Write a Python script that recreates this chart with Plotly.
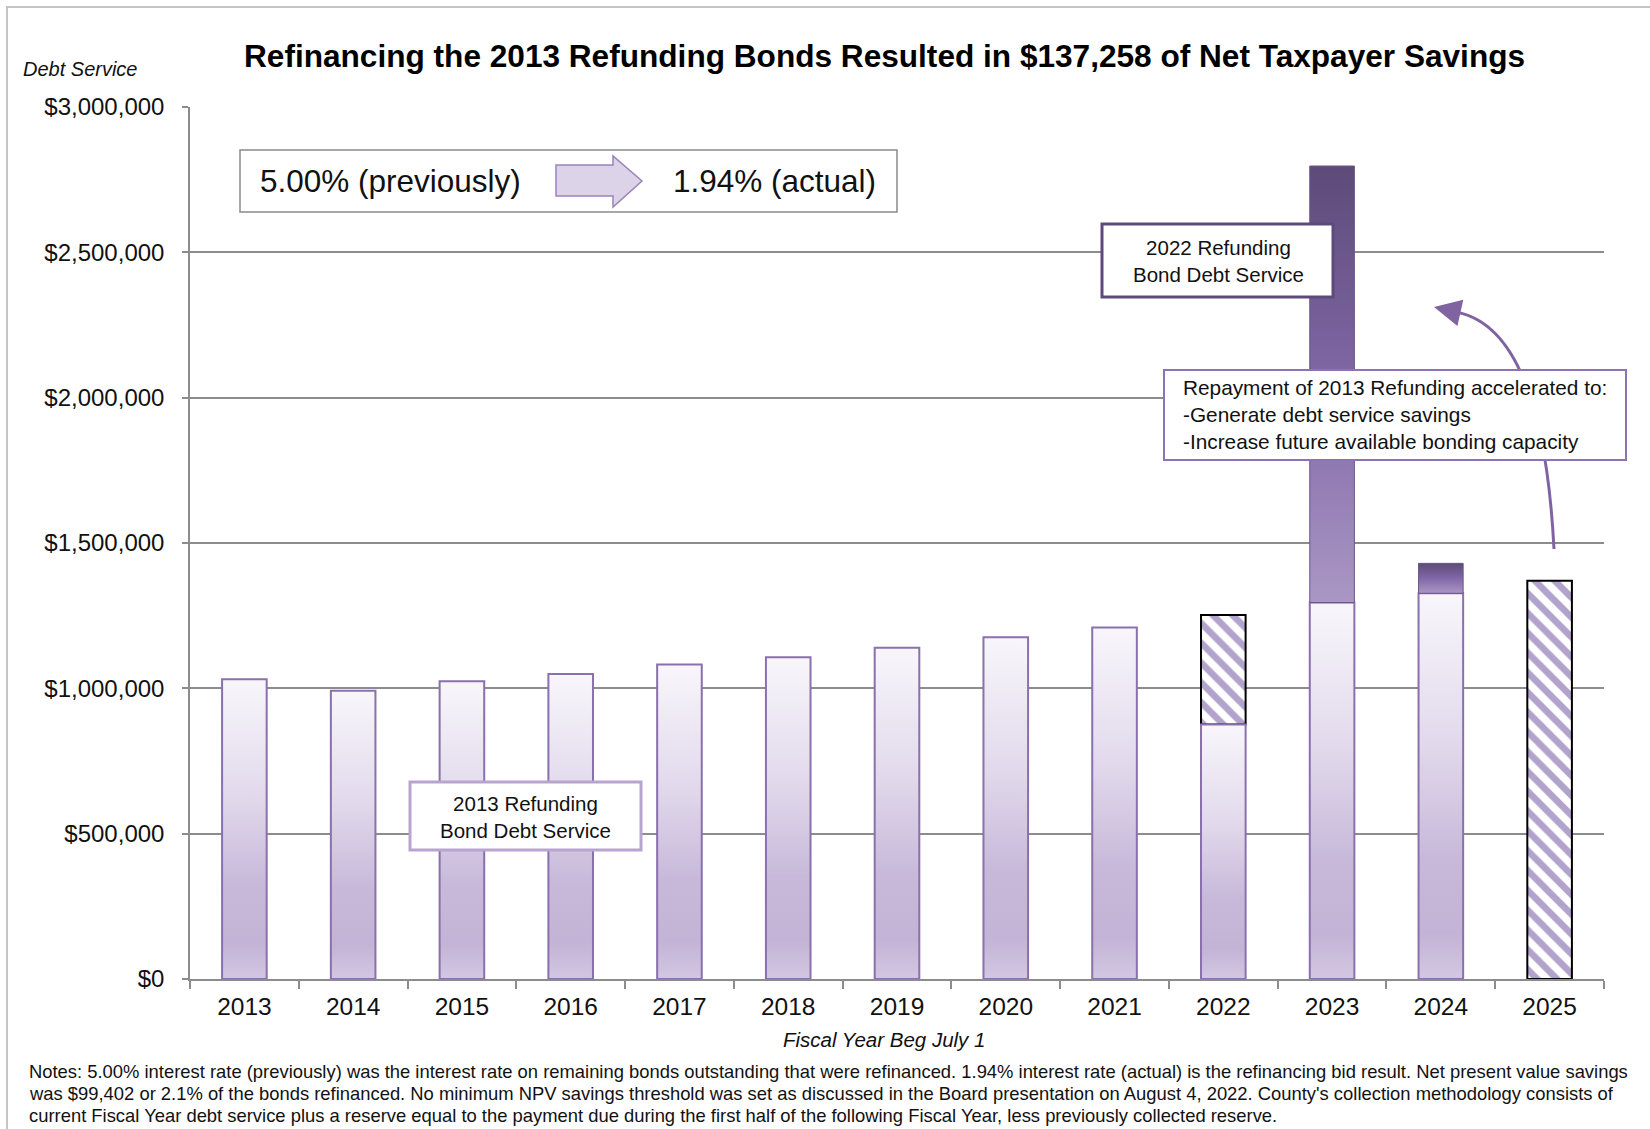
import plotly.graph_objects as go

# ---- data -------------------------------------------------------------
years = [2013, 2014, 2015, 2016, 2017, 2018, 2019, 2020, 2021, 2022, 2023, 2024, 2025]
year_labels = [str(y) for y in years]

# 2013 Refunding Bond debt service actually paid
bond_2013_ds = [1031000, 992000, 1024000, 1049000, 1082000, 1107000, 1140000,
                1176000, 1209000, 876000, 1295000, 1327000, 0]
# 2013 Refunding debt service that was refinanced (previously scheduled)
refinanced_2013_ds = [0, 0, 0, 0, 0, 0, 0, 0, 0, 376000, 0, 0, 1370000]
# 2022 Refunding Bond debt service
bond_2022_ds = [0, 0, 0, 0, 0, 0, 0, 0, 0, 0, 1502000, 103000, 0]

y_ticks = [0, 500000, 1000000, 1500000, 2000000, 2500000, 3000000]
y_tick_labels = ["$0", "$500,000", "$1,000,000", "$1,500,000",
                 "$2,000,000", "$2,500,000", "$3,000,000"]

note_lines = [
    "Notes: 5.00% interest rate (previously) was the interest rate on remaining bonds outstanding that were refinanced. "
    "1.94% interest rate (actual) is the refinancing bid result. Net present value savings",
    "was $99,402 or 2.1% of the bonds refinanced. No minimum NPV savings threshold was set as discussed in the Board "
    "presentation on August 4, 2022. County's collection methodology consists of",
    "current Fiscal Year debt service plus a reserve equal to the payment due during the first half of the following "
    "Fiscal Year, less previously collected reserve.",
]

# ---- page geometry ----------------------------------------------------
W, H = 1650, 1129
L, R, T, B = 190, 46, 107, 150
PW, PH = W - L - R, H - T - B
BAR_W = 0.41

FONT = "Liberation Sans, Arial, sans-serif"
NARROW = "Liberation Sans Narrow, Arial Narrow, Liberation Sans, sans-serif"
GRID = "#8c8c8c"
PURPLE = "#8064a2"


def px(x):
    """page pixel column -> paper x"""
    return (x - L) / PW


def py(y):
    """page pixel row -> paper y"""
    return (H - B - y) / PH


fig = go.Figure()

# 2013 Refunding bars (white-to-lilac vertical gradient)
light_scale = [[0.0, "#d3c7e2"], [0.12, "#c3b3d6"], [0.32, "#c8b9da"],
               [0.62, "#e2daec"], [1.0, "#f8f6fb"]]
for yr, v in zip(years, bond_2013_ds):
    if v <= 0:
        continue
    x0, x1 = yr - BAR_W / 2, yr + BAR_W / 2
    fig.add_trace(go.Scatter(
        x=[x0, x0, x1, x1, x0], y=[0, v, v, 0, 0],
        mode="lines", fill="toself",
        fillgradient=dict(type="vertical", colorscale=light_scale),
        line=dict(color="#8a70ac", width=2),
        name="2013 Refunding Bond Debt Service", hoverinfo="skip"))

# 2022 Refunding bars stacked on top (dark purple gradient)
dark_scale = [[0.0, "#ab97c5"], [0.5, "#8068a6"], [1.0, "#5e4a79"]]
for yr, base, v in zip(years, bond_2013_ds, bond_2022_ds):
    if v <= 0:
        continue
    x0, x1 = yr - BAR_W / 2, yr + BAR_W / 2
    fig.add_trace(go.Scatter(
        x=[x0, x0, x1, x1, x0], y=[base, base + v, base + v, base, base],
        mode="lines", fill="toself",
        fillgradient=dict(type="vertical", colorscale=dark_scale),
        line=dict(color="#6a5488", width=1),
        name="2022 Refunding Bond Debt Service", hoverinfo="skip"))

# refinanced 2013 Refunding debt service (hatched)
hx = [yr for yr, v in zip(years, refinanced_2013_ds) if v > 0]
hy = [v for v in refinanced_2013_ds if v > 0]
hb = [b for b, v in zip(bond_2013_ds, refinanced_2013_ds) if v > 0]
fig.add_trace(go.Bar(
    x=hx, y=hy, base=hb, width=BAR_W,
    marker=dict(color="white", line=dict(color="black", width=2),
                pattern=dict(shape="\\", fgcolor="#66479a", bgcolor="white",
                             size=14, solidity=0.48)),
    name="Refinanced 2013 Refunding Debt Service", hoverinfo="skip"))

shapes = []
annotations = []

# outer frame (top and left edges visible)
shapes.append(dict(type="rect", xref="paper", yref="paper",
                   x0=px(7), x1=px(1700), y0=py(1200), y1=py(7),
                   line=dict(color="#c4c4c4", width=2), layer="below"))

# rate comparison box with block arrow
shapes.append(dict(type="rect", xref="paper", yref="paper",
                   x0=px(240), x1=px(897), y0=py(212), y1=py(150),
                   fillcolor="white", line=dict(color="#8a8a8a", width=1.5)))
arrow_pts = [(556, 165), (613, 165), (613, 156), (642, 181), (613, 207),
             (613, 196), (556, 196)]
path = "M " + " L ".join(f"{px(a):.5f},{py(b):.5f}" for a, b in arrow_pts) + " Z"
shapes.append(dict(type="path", xref="paper", yref="paper", path=path,
                   fillcolor="#ddd3e9", line=dict(color="#9a84ba", width=1.5)))
annotations.append(dict(text="5.00% (previously)", xref="paper", yref="paper",
                        x=px(258), y=py(181), xanchor="left", yanchor="middle",
                        showarrow=False, font=dict(size=31.5, family=FONT, color="#111")))
annotations.append(dict(text="1.94% (actual)", xref="paper", yref="paper",
                        x=px(878), y=py(181), xanchor="right", yanchor="middle",
                        showarrow=False, font=dict(size=31.5, family=FONT, color="#111")))

# curved callout arrow
shapes.append(dict(type="path", xref="paper", yref="paper",
                   path=(f"M {px(1554):.5f},{py(549):.5f} "
                         f"Q {px(1542):.5f},{py(318):.5f} {px(1448):.5f},{py(311):.5f}"),
                   line=dict(color=PURPLE, width=3)))
annotations.append(dict(text="", xref="paper", yref="paper",
                        x=px(1434), y=py(307), ax=18, ay=4,
                        showarrow=True, arrowhead=2, arrowsize=1.8,
                        arrowwidth=3, arrowcolor=PURPLE))

# 2022 Refunding label
shapes.append(dict(type="rect", xref="paper", yref="paper",
                   x0=px(1102), x1=px(1333), y0=py(297), y1=py(224),
                   fillcolor="white", line=dict(color="#5e4a7a", width=3)))
annotations.append(dict(text="2022 Refunding<br>Bond Debt Service", xref="paper", yref="paper",
                        x=px(1218), y=py(261), xanchor="center", yanchor="middle",
                        showarrow=False, align="center",
                        font=dict(size=20.5, family=FONT, color="#111")))

# repayment note box
shapes.append(dict(type="rect", xref="paper", yref="paper",
                   x0=px(1164), x1=px(1626), y0=py(460), y1=py(370),
                   fillcolor="white", line=dict(color="#8d73b3", width=2)))
annotations.append(dict(text=("Repayment of 2013 Refunding accelerated to:<br>"
                              "-Generate debt service savings<br>"
                              "-Increase future available bonding capacity"),
                        xref="paper", yref="paper",
                        x=px(1181), y=py(414), xanchor="left", yanchor="middle",
                        showarrow=False, align="left",
                        font=dict(size=20.8, family=FONT, color="#111")))

# 2013 Refunding label
shapes.append(dict(type="rect", xref="paper", yref="paper",
                   x0=px(410), x1=px(641), y0=py(850), y1=py(782),
                   fillcolor="white", line=dict(color="#b7a5cf", width=3)))
annotations.append(dict(text="2013 Refunding<br>Bond Debt Service", xref="paper", yref="paper",
                        x=px(525), y=py(817), xanchor="center", yanchor="middle",
                        showarrow=False, align="center",
                        font=dict(size=20.5, family=FONT, color="#111")))

# titles and notes
annotations.append(dict(text="Refinancing the 2013 Refunding Bonds Resulted in $137,258 of Net Taxpayer Savings",
                        xref="paper", yref="paper", x=px(884), y=py(56),
                        xanchor="center", yanchor="middle", showarrow=False,
                        font=dict(size=31.6, family=NARROW, color="#000", weight=700)))
annotations.append(dict(text="<i>Debt Service</i>", xref="paper", yref="paper",
                        x=px(21), y=py(69), xanchor="left", yanchor="middle",
                        showarrow=False, font=dict(size=20, family=FONT, color="#111")))
annotations.append(dict(text="<i>Fiscal Year Beg July 1</i>", xref="paper", yref="paper",
                        x=px(884), y=py(1039), xanchor="center", yanchor="middle",
                        showarrow=False, font=dict(size=20.5, family=FONT, color="#111")))
for i, line in enumerate(note_lines):
    annotations.append(dict(text=line, xref="paper", yref="paper",
                            x=px(27), y=py(1071 + 22 * i), xanchor="left", yanchor="middle",
                            showarrow=False, align="left",
                            font=dict(size=18.4, family=NARROW, color="#111")))

fig.update_layout(
    width=W, height=H,
    margin=dict(l=L, r=R, t=T, b=B, pad=0),
    plot_bgcolor="white", paper_bgcolor="white",
    showlegend=False, barmode="overlay",
    font=dict(family=FONT, color="#111"),
    shapes=shapes, annotations=annotations,
    xaxis=dict(range=[2012.5, 2025.5], tickmode="array", tickvals=years,
               ticktext=year_labels, ticks="", showgrid=False, zeroline=False,
               showline=True, linecolor=GRID, linewidth=1.5,
               tickfont=dict(size=24.5, family=FONT, color="#111"),
               ticklabelstandoff=5,
               minor=dict(tickmode="array",
                          tickvals=[y - 0.5 for y in years] + [years[-1] + 0.5],
                          ticks="outside", ticklen=8, tickwidth=1.5,
                          tickcolor=GRID, showgrid=False)),
    yaxis=dict(range=[0, 3000000], tickmode="array", tickvals=y_ticks,
               ticktext=y_tick_labels, showgrid=True, gridcolor=GRID,
               gridwidth=1.5, zeroline=False, showline=True, linecolor=GRID,
               linewidth=1.5, ticks="outside", ticklen=6, tickwidth=1.5,
               tickcolor=GRID, tickfont=dict(size=24, family=FONT, color="#111"),
               ticklabelstandoff=13),
)

fig.write_html("out.html")
